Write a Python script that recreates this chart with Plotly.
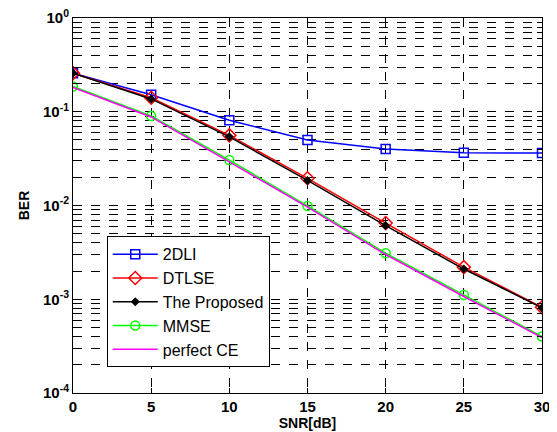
import plotly.graph_objects as go

snr = [0, 5, 10, 15, 20, 25, 30]
ber_2dli = [0.258, 0.152, 0.081, 0.050, 0.040, 0.0365, 0.0362]
ber_dtlse = [0.258, 0.141, 0.056, 0.0195, 0.0065, 0.0022, 0.00082]
ber_proposed = [0.258, 0.137, 0.054, 0.0185, 0.0061, 0.0021, 0.00081]
ber_mmse = [0.186, 0.090, 0.0305, 0.0099, 0.0031, 0.00111, 0.00040]
ber_perfect = [0.182, 0.088, 0.0292, 0.0096, 0.0030, 0.00107, 0.00039]

x_ticks = [0, 5, 10, 15, 20, 25, 30]
y_decades = [1e-4, 1e-3, 1e-2, 1e-1, 1e0]
y_labels = ["10<sup>-4</sup>", "10<sup>-3</sup>", "10<sup>-2</sup>", "10<sup>-1</sup>", "10<sup>0</sup>"]

yvals, ytext = [], []
for d, lab in zip(y_decades, y_labels):
    yvals.append(d)
    ytext.append(lab)
    if d < 1:
        for m in range(2, 10):
            yvals.append(d * m)
            ytext.append("")

fig = go.Figure()
fig.add_trace(go.Scatter(x=snr, y=ber_2dli, name="2DLI", mode="lines+markers",
                         line=dict(color="#0000ff", width=1.5),
                         marker=dict(symbol="square-open", size=9, color="#0000ff", line=dict(width=1.5))))
fig.add_trace(go.Scatter(x=snr, y=ber_dtlse, name="DTLSE", mode="lines+markers",
                         line=dict(color="#ff0000", width=1.5),
                         marker=dict(symbol="diamond-open", size=10, color="#ff0000", line=dict(width=1.5))))
fig.add_trace(go.Scatter(x=snr, y=ber_proposed, name="The Proposed", mode="lines+markers",
                         line=dict(color="#000000", width=1.5),
                         marker=dict(symbol="diamond", size=7, color="#000000")))
fig.add_trace(go.Scatter(x=snr, y=ber_mmse, name="MMSE", mode="lines+markers",
                         line=dict(color="#00ff00", width=1.5),
                         marker=dict(symbol="circle-open", size=9, color="#00ff00", line=dict(width=1.5))))
fig.add_trace(go.Scatter(x=snr, y=ber_perfect, name="perfect CE", mode="lines",
                         line=dict(color="#ff00ff", width=1.5)))

fig.update_layout(
    width=549, height=424,
    margin=dict(l=65, r=15, t=10, b=39, autoexpand=False),
    paper_bgcolor="white", plot_bgcolor="white",
    font=dict(family="Liberation Sans, Arial, sans-serif", color="black", size=13),
    legend=dict(x=0.072, y=0.418, xanchor="left", yanchor="top",
                bgcolor="white", bordercolor="black", borderwidth=1,
                font=dict(size=16), tracegroupgap=0, itemwidth=45),
    showlegend=True,
)
fig.update_xaxes(range=[0, 30], tickvals=x_ticks, ticktext=[f"<b>{v}</b>" for v in x_ticks],
                 showgrid=True, gridcolor="black", griddash="dash", gridwidth=0.6,
                 showline=True, linecolor="black", linewidth=1, mirror="ticks",
                 ticks="inside", ticklen=5, tickcolor="black", zeroline=False,
                 ticklabeloverflow="allow", automargin=False,
                 title=dict(text="<b>SNR[dB]</b>", standoff=3, font=dict(size=14)),
                 tickfont=dict(size=15))
fig.update_yaxes(type="log", range=[-4, 0], tickvals=yvals, ticktext=[f"<b>{t}</b>" if t else "" for t in ytext],
                 showgrid=True, gridcolor="black", griddash="dash", gridwidth=0.6,
                 showline=True, linecolor="black", linewidth=1, mirror="ticks",
                 ticks="inside", ticklen=5, tickcolor="black", zeroline=False,
                 ticklabeloverflow="allow", automargin=False,
                 title=dict(text="<b>BER</b>", standoff=10, font=dict(size=14)),
                 tickfont=dict(size=15))

fig.write_html("out.html")
